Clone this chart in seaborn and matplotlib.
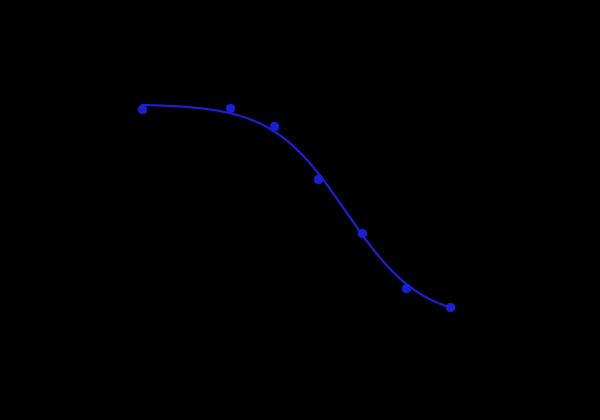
import numpy as np
import pandas as pd
import matplotlib
matplotlib.use("Agg")
import matplotlib.pyplot as plt
import seaborn as sns

# Data (standard curve)
concentration = [0.15625, 0.625, 1.25, 2.5, 5, 10, 20]
od = [2.41, 2.42, 2.24, 1.71, 1.17, 0.62, 0.43]
# 4-parameter logistic fit parameters (top, bottom, ec50, hill)
fit_top, fit_bottom, fit_ec50, fit_hill = 2.46, 0.30, 3.9, 1.70

sns.set_theme(style="white")
plt.rcParams['font.family'] = ['DejaVu Sans']

fig = plt.figure(figsize=(6, 4.2), dpi=100, facecolor="black")
ax = fig.add_axes([113.7 / 600, 70 / 420, 380.3 / 600, 300 / 420])
ax.set_facecolor("black")

df = pd.DataFrame({"Concentration": concentration, "OD": od})
xs = np.logspace(np.log10(concentration[0]), np.log10(concentration[-1]), 200)
ys = fit_bottom + (fit_top - fit_bottom) / (1 + (xs / fit_ec50) ** fit_hill)
fit = pd.DataFrame({"Concentration": xs, "OD": ys})

color = "#1c1fcc"
sns.lineplot(data=fit, x="Concentration", y="OD", ax=ax, color=color, linewidth=1.6)
sns.scatterplot(data=df, x="Concentration", y="OD", ax=ax, color=color, s=40,
                edgecolor=color, zorder=3)

ax.set_xscale("log", base=2)
ax.set_xlim(0.1, 40)
ax.set_ylim(0, 3)
for s in ax.spines.values():
    s.set_color("black")
ax.tick_params(colors="black")
ax.set_xlabel("Concentration (ng/mL)", color="black")
ax.set_ylabel("OD", color="black")

fig.savefig("out.png", dpi=100, facecolor="black")
